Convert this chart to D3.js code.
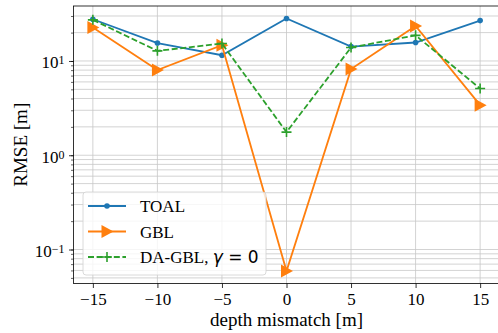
<!DOCTYPE html>
<html>
<head>
<meta charset="utf-8">
<script src="https://cdn.jsdelivr.net/npm/d3@7"></script>
<style>
  body { margin: 0; background: #fff; }
  svg text { font-family: "Liberation Serif", "Times New Roman", serif; }
</style>
</head>
<body>
<svg id="chart" width="498" height="333"></svg>
<script>
// data
const mismatch = [-15, -10, -5, 0, 5, 10, 15];
const toal = [27.7, 15.5, 11.5, 28.2, 14.2, 15.7, 26.8];
const gbl = [22.6, 8.0, 14.7, 0.059, 8.2, 23.5, 3.4];
const daGbl = [27.3, 12.8, 15.3, 1.76, 13.9, 18.7, 5.1];
const xTicks = [-15, -10, -5, 0, 5, 10, 15];
const yDecades = [-1, 0, 1];

const svg = d3.select('#chart');
const plotL = 73.5, plotR = 499.5, plotT = 6, plotB = 283.5;

const x = d3.scaleLinear().domain([-16.5, 16.5]).range([plotL, plotR]);
const y = d3.scaleLog().domain([0.0436, 38.3]).range([plotB, plotT]);

// minor + major gridlines
const minorVals = [];
for (let e = -2; e <= 1; e++) {
  for (let m = 1; m <= 9; m++) {
    const v = m * Math.pow(10, e);
    if (v >= 0.0436 && v <= 38.3) minorVals.push(v);
  }
}
const grid = svg.append('g');
grid.selectAll('line.hm')
  .data(minorVals)
  .join('line')
    .attr('x1', plotL).attr('x2', plotR)
    .attr('y1', d => y(d)).attr('y2', d => y(d))
    .attr('stroke', '#c8c8c8')
    .attr('stroke-width', 0.8);
grid.selectAll('line.v')
  .data(xTicks)
  .join('line')
    .attr('x1', d => x(d)).attr('x2', d => x(d))
    .attr('y1', plotT).attr('y2', plotB)
    .attr('stroke', '#c8c8c8')
    .attr('stroke-width', 0.8);

// axes
const xAxis = svg.append('g')
  .attr('transform', `translate(0,${plotB})`)
  .call(d3.axisBottom(x).tickValues(xTicks).tickSize(4.5).tickPadding(5)
    .tickFormat(d => d < 0 ? '\u2212' + Math.abs(d) : d));
xAxis.select('.domain').remove();
xAxis.selectAll('text').style('font-size', '17px').attr('fill', '#000');
xAxis.selectAll('line').attr('stroke', '#000').attr('stroke-width', 0.8);

const yAxis = svg.append('g')
  .attr('transform', `translate(${plotL},0)`)
  .call(d3.axisLeft(y).tickValues(minorVals).tickSize(2.5).tickFormat(''));
yAxis.select('.domain').remove();
yAxis.selectAll('line').attr('stroke', '#000').attr('stroke-width', 0.6);

const yMajor = svg.append('g')
  .attr('transform', `translate(${plotL},0)`)
  .call(d3.axisLeft(y).tickValues(yDecades.map(e => Math.pow(10, e))).tickSize(4.5).tickFormat(''));
yMajor.select('.domain').remove();
yMajor.selectAll('line').attr('stroke', '#000').attr('stroke-width', 0.8);

yDecades.forEach(e => {
  const t = svg.append('text')
    .attr('x', plotL - 9)
    .attr('y', y(Math.pow(10, e)) + 7.5)
    .attr('text-anchor', 'end')
    .style('font-size', '17px');
  t.append('tspan').text('10');
  t.append('tspan').attr('dy', -4).style('font-size', '12px')
    .text(e < 0 ? '\u2212' + Math.abs(e) : e);
});

// spines
svg.append('rect')
  .attr('x', plotL).attr('y', plotT)
  .attr('width', plotR - plotL).attr('height', plotB - plotT)
  .attr('fill', 'none').attr('stroke', '#000').attr('stroke-width', 0.8);

// labels
svg.append('text')
  .attr('x', x(0)).attr('y', 326)
  .attr('text-anchor', 'middle')
  .style('font-size', '19px')
  .text('depth mismatch [m]');
svg.append('text')
  .attr('transform', `translate(27,${(plotT + plotB) / 2}) rotate(-90)`)
  .attr('text-anchor', 'middle')
  .style('font-size', '19px')
  .text('RMSE [m]');

// series
const series = [
  { name: 'TOAL', values: toal, color: '#1f77b4', dash: null, marker: 'dot' },
  { name: 'GBL', values: gbl, color: '#ff7f0e', dash: null, marker: 'tri' },
  { name: 'DA-GBL', values: daGbl, color: '#2ca02c', dash: '6,2.6', marker: 'plus' }
];

const line = d3.line()
  .x((d, i) => x(mismatch[i]))
  .y(d => y(d));

function drawMarker(g, kind, color) {
  if (kind === 'dot') {
    g.append('circle').attr('r', 2.8).attr('fill', color);
  } else if (kind === 'tri') {
    g.append('path').attr('d', 'M6.5,0 L-5.5,-6.5 L-5.5,6.5 Z').attr('fill', color);
  } else {
    g.append('path').attr('d', 'M-5,0 H5 M0,-5 V5')
      .attr('stroke', color).attr('stroke-width', 1.6);
  }
}

const plot = svg.append('g');
series.forEach(s => {
  plot.append('path')
    .datum(s.values)
    .attr('d', line)
    .attr('fill', 'none')
    .attr('stroke', s.color)
    .attr('stroke-width', 1.8)
    .attr('stroke-dasharray', s.dash);
  s.values.forEach((v, i) => {
    const g = plot.append('g').attr('transform', `translate(${x(mismatch[i])},${y(v)})`);
    drawMarker(g, s.marker, s.color);
  });
});

// legend
const lg = svg.append('g');
lg.append('rect')
  .attr('x', 83).attr('y', 192)
  .attr('width', 183).attr('height', 83)
  .attr('rx', 3)
  .attr('fill', '#fff').attr('fill-opacity', 0.8)
  .attr('stroke', '#d0d0d0').attr('stroke-width', 0.8);

series.forEach((s, i) => {
  const cy = 206 + i * 25.5;
  lg.append('line')
    .attr('x1', 88).attr('x2', 126)
    .attr('y1', cy).attr('y2', cy)
    .attr('stroke', s.color).attr('stroke-width', 1.8)
    .attr('stroke-dasharray', s.dash);
  drawMarker(lg.append('g').attr('transform', `translate(107,${cy})`), s.marker, s.color);
  const t = lg.append('text')
    .attr('x', 140).attr('y', cy + 6)
    .style('font-size', '17px');
  if (s.name === 'DA-GBL') {
    t.append('tspan').text('DA-GBL, ');
    t.append('tspan').style('font-family', 'DejaVu Sans').style('font-style', 'italic').text('\u03b3');
    t.append('tspan').style('font-family', 'DejaVu Sans').text(' = 0');
  } else {
    t.text(s.name);
  }
});
</script>
</body>
</html>
